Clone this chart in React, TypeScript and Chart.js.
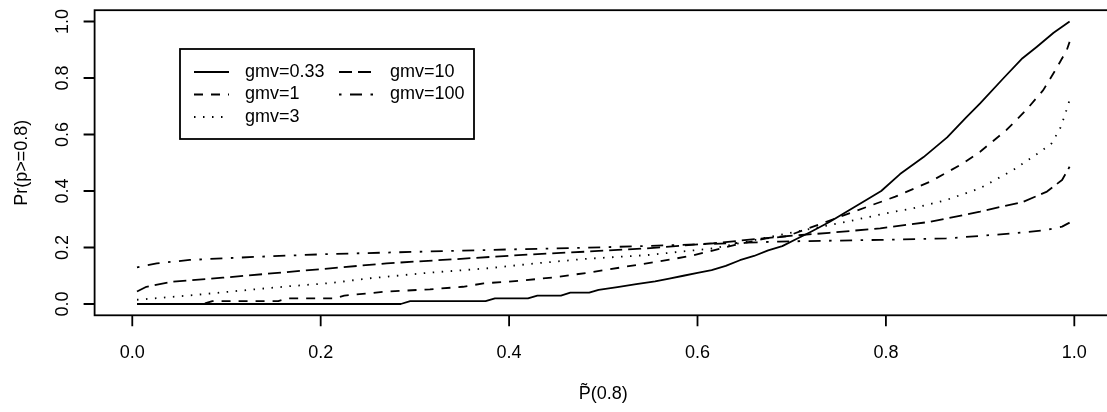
import React, { useEffect, useRef } from "react";
import { Chart, registerables } from "chart.js";

Chart.register(...registerables);

// ---- data ----
const seriesLabels = ["gmv=0.33", "gmv=1", "gmv=3", "gmv=10", "gmv=100"];

const xGmv033 = [0.005, 0.285, 0.295, 0.375, 0.385, 0.42, 0.43, 0.455, 0.465, 0.485, 0.495, 0.515, 0.535, 0.555, 0.57, 0.585, 0.6, 0.615, 0.63, 0.645, 0.66, 0.675, 0.69, 0.705, 0.72, 0.74, 0.76, 0.78, 0.795, 0.815, 0.84, 0.865, 0.885, 0.9, 0.925, 0.945, 0.96, 0.978, 0.995];
const yGmv033 = [0, 0, 0.01, 0.01, 0.02, 0.02, 0.03, 0.03, 0.04, 0.04, 0.05, 0.06, 0.07, 0.08, 0.09, 0.1, 0.11, 0.12, 0.135, 0.155, 0.17, 0.19, 0.205, 0.23, 0.255, 0.29, 0.33, 0.37, 0.4, 0.46, 0.52, 0.59, 0.66, 0.71, 0.8, 0.87, 0.91, 0.96, 1.0];

const xGmv1 = [0.005, 0.075, 0.085, 0.155, 0.165, 0.215, 0.225, 0.27, 0.316, 0.351, 0.373, 0.41, 0.447, 0.482, 0.52, 0.574, 0.596, 0.617, 0.64, 0.673, 0.695, 0.744, 0.78, 0.81, 0.847, 0.882, 0.9, 0.928, 0.949, 0.967, 0.981, 0.992, 0.995];
const yGmv1 = [0, 0, 0.01, 0.01, 0.02, 0.02, 0.03, 0.044, 0.052, 0.061, 0.073, 0.082, 0.094, 0.11, 0.13, 0.159, 0.173, 0.19, 0.209, 0.232, 0.24, 0.3, 0.344, 0.38, 0.433, 0.498, 0.539, 0.616, 0.687, 0.757, 0.834, 0.899, 0.928];

const xGmv3 = [0.005, 0.06, 0.114, 0.167, 0.21, 0.252, 0.316, 0.376, 0.429, 0.482, 0.546, 0.617, 0.687, 0.758, 0.8, 0.829, 0.864, 0.9, 0.935, 0.964, 0.976, 0.985, 0.99, 0.995];
const yGmv3 = [0.015, 0.03, 0.047, 0.063, 0.074, 0.091, 0.111, 0.126, 0.144, 0.16, 0.173, 0.197, 0.244, 0.291, 0.321, 0.339, 0.368, 0.41, 0.474, 0.539, 0.569, 0.622, 0.669, 0.722];

const xGmv10 = [0.005, 0.015, 0.043, 0.096, 0.167, 0.21, 0.27, 0.34, 0.41, 0.48, 0.546, 0.617, 0.687, 0.74, 0.794, 0.847, 0.9, 0.946, 0.971, 0.987, 0.995];
const yGmv10 = [0.044, 0.061, 0.079, 0.093, 0.114, 0.126, 0.144, 0.158, 0.173, 0.185, 0.197, 0.215, 0.238, 0.252, 0.268, 0.291, 0.327, 0.362, 0.398, 0.439, 0.486];

const xGmv100 = [0.005, 0.026, 0.061, 0.132, 0.21, 0.305, 0.41, 0.48, 0.581, 0.687, 0.794, 0.864, 0.935, 0.971, 0.987, 0.995];
const yGmv100 = [0.13, 0.144, 0.156, 0.167, 0.177, 0.185, 0.194, 0.199, 0.209, 0.221, 0.227, 0.232, 0.25, 0.262, 0.274, 0.288];

const xTicks = [0, 0.2, 0.4, 0.6, 0.8, 1.0];
const xTickLabels = ["0.0", "0.2", "0.4", "0.6", "0.8", "1.0"];
const yTicks = [0, 0.2, 0.4, 0.6, 0.8, 1.0];
const yTickLabels = ["0.0", "0.2", "0.4", "0.6", "0.8", "1.0"];

const xTitle = "P\u0303(0.8)";
const yTitle = "Pr(p>=0.8)";

// ---- styling ----
const W = 1130;
const H = 412;
const FONT = '"Liberation Sans", Arial, Helvetica, sans-serif';
const DASHES: number[][] = [[], [9, 8], [1.5, 7.5], [13, 6], [2.5, 8.5, 12, 8.5]];
const LW = 1.8;

const rPlotPlugin = {
  id: "rPlot",
  afterDraw(chart: any) {
    const { ctx, chartArea: a, scales } = chart;
    const xs = scales.x;
    const ys = scales.y;
    ctx.save();
    ctx.strokeStyle = "#000";
    ctx.fillStyle = "#000";
    ctx.lineWidth = LW;
    ctx.setLineDash([]);
    ctx.strokeRect(a.left, a.top, a.right - a.left, a.bottom - a.top);

    ctx.beginPath();
    xTicks.forEach((v) => {
      const px = xs.getPixelForValue(v);
      ctx.moveTo(px, a.bottom);
      ctx.lineTo(px, a.bottom + 11);
    });
    yTicks.forEach((v) => {
      const py = ys.getPixelForValue(v);
      ctx.moveTo(a.left, py);
      ctx.lineTo(a.left - 11, py);
    });
    ctx.stroke();

    ctx.font = `18px ${FONT}`;
    ctx.textAlign = "center";
    ctx.textBaseline = "middle";
    xTicks.forEach((v, i) => {
      ctx.fillText(xTickLabels[i], xs.getPixelForValue(v), 353);
    });
    yTicks.forEach((v, i) => {
      ctx.save();
      ctx.translate(63, ys.getPixelForValue(v));
      ctx.rotate(-Math.PI / 2);
      ctx.fillText(yTickLabels[i], 0, 0);
      ctx.restore();
    });

    // axis titles
    ctx.fillText(xTitle, (a.left + a.right) / 2, 394);
    ctx.save();
    ctx.translate(22, (a.top + a.bottom) / 2);
    ctx.rotate(-Math.PI / 2);
    ctx.fillText(yTitle, 0, 0);
    ctx.restore();

    // legend
    const bx = 180, by = 49, bw = 294, bh = 90;
    ctx.lineWidth = LW;
    ctx.setLineDash([]);
    ctx.strokeRect(bx, by, bw, bh);
    const rows = [72, 94.5, 117];
    const cols = [
      { l0: 194, l1: 229, t: 245 },
      { l0: 339, l1: 374, t: 390 },
    ];
    const placement = [
      [0, 0],
      [0, 1],
      [0, 2],
      [1, 0],
      [1, 1],
    ];
    ctx.textAlign = "left";
    seriesLabels.forEach((lab, i) => {
      const [c, r] = placement[i];
      const col = cols[c];
      const y = rows[r];
      ctx.setLineDash(DASHES[i]);
      ctx.beginPath();
      ctx.moveTo(col.l0, y);
      ctx.lineTo(col.l1, y);
      ctx.stroke();
      ctx.setLineDash([]);
      ctx.fillText(lab, col.t, y);
    });
    ctx.restore();
  },
};

export default function App() {
  const ref = useRef<HTMLCanvasElement | null>(null);

  useEffect(() => {
    if (!ref.current) return;
    const xsAll = [xGmv033, xGmv1, xGmv3, xGmv10, xGmv100];
    const ysAll = [yGmv033, yGmv1, yGmv3, yGmv10, yGmv100];
    const datasets = seriesLabels.map((lab, i) => ({
      label: lab,
      data: xsAll[i].map((x, j) => ({ x, y: ysAll[i][j] })),
      borderColor: "#000",
      backgroundColor: "#000",
      borderWidth: LW,
      borderDash: DASHES[i],
      borderCapStyle: "butt" as const,
      borderJoinStyle: "round" as const,
      pointRadius: 0,
      showLine: true,
      tension: 0,
      fill: false,
    }));

    const chart = new Chart(ref.current, {
      type: "scatter",
      data: { datasets },
      options: {
        animation: false,
        responsive: false,
        devicePixelRatio: 1,
        events: [],
        layout: { padding: { left: 94.6, right: W - 1112, top: 10.2, bottom: H - 315.3 } },
        scales: {
          x: { type: "linear", min: -0.04, max: 1.04, display: false },
          y: { type: "linear", min: -0.04, max: 1.04, display: false },
        },
        plugins: {
          legend: { display: false },
          tooltip: { enabled: false },
        },
      },
      plugins: [rPlotPlugin],
    });
    return () => chart.destroy();
  }, []);

  return (
    <div
      style={{
        position: "fixed",
        left: 0,
        top: 0,
        width: 1107,
        height: 412,
        overflow: "hidden",
        background: "#fff",
      }}
    >
      <canvas ref={ref} width={W} height={H} style={{ display: "block" }} />
    </div>
  );
}
